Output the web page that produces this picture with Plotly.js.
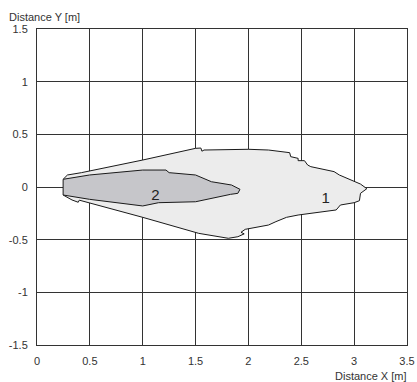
<!DOCTYPE html>
<html><head><meta charset="utf-8">
<script src="https://cdn.plot.ly/plotly-3.0.1.min.js"></script>
<style>html,body{margin:0;padding:0;background:#fff}</style>
</head><body><div id="chart" style="width:417px;height:382px"></div>
<script>
// Field 1 (outer) outline
const field1X = [0.247,0.288,0.42,1.0,1.5,1.55,1.56,1.58,2.0,2.19,2.39,2.40,2.47,2.47,2.53,2.56,2.59,2.81,2.86,2.97,3.06,3.12,3.06,3.05,3.0,2.87,2.83,2.47,2.36,2.26,2.19,1.97,1.93,1.96,1.90,1.81,1.53,1.0,0.45,0.40,0.39,0.36,0.331,0.247];
const field1Y = [0.073,0.114,0.136,0.256,0.367,0.37,0.34,0.351,0.358,0.351,0.326,0.288,0.272,0.25,0.25,0.209,0.193,0.146,0.114,0.066,0.028,-0.016,-0.06,-0.13,-0.149,-0.171,-0.218,-0.266,-0.288,-0.329,-0.361,-0.402,-0.43,-0.445,-0.472,-0.487,-0.44,-0.288,-0.135,-0.125,-0.145,-0.135,-0.123,-0.076];
// Field 2 (inner) outline
const field2X = [0.247,0.497,1.0,1.22,1.25,1.5,1.65,1.84,1.92,1.90,1.83,1.72,1.5,1.15,1.0,0.497,0.247,0.247];
const field2Y = [0.073,0.114,0.161,0.161,0.136,0.114,0.05,0.019,-0.022,-0.06,-0.07,-0.092,-0.14,-0.149,-0.18,-0.117,-0.076,0.073];
const labels = ["1","2"];
const labelX = [2.73,1.12];
const labelY = [-0.12,-0.09];
const xTicks = [0,0.5,1,1.5,2,2.5,3,3.5];
const yTicks = [-1.5,-1,-0.5,0,0.5,1,1.5];

const traces = [
  {x: field1X, y: field1Y, mode:'lines', fill:'toself', fillcolor:'#ececec',
   line:{color:'#1a1a1a', width:1}, hoverinfo:'skip'},
  {x: field2X, y: field2Y, mode:'lines', fill:'toself', fillcolor:'#c6c6ca',
   line:{color:'#1a1a1a', width:1}, hoverinfo:'skip'},
  {x: labelX, y: labelY, mode:'text', text: labels,
   textfont:{family:'Liberation Sans, Arial, sans-serif', size:15, color:'#222'}, hoverinfo:'skip'}
];
const font = {family:'Liberation Sans, Arial, sans-serif', size:11, color:'#333'};
const layout = {
  width:417, height:382,
  margin:{l:37, r:10, t:29, b:37},
  paper_bgcolor:'#fff', plot_bgcolor:'#fff',
  showlegend:false,
  font: font,
  xaxis:{range:[0,3.5], tickvals:xTicks, ticktext:xTicks.map(String), showgrid:true,
    gridcolor:'#333', gridwidth:1, zeroline:false, showline:true, linecolor:'#333', linewidth:1,
    mirror:true, ticks:'', tickfont:font, ticklabelstandoff:6, fixedrange:true},
  yaxis:{range:[-1.5,1.5], tickvals:yTicks, ticktext:yTicks.map(String), showgrid:true,
    gridcolor:'#333', gridwidth:1, zeroline:true, zerolinecolor:'#333', zerolinewidth:1,
    showline:true, linecolor:'#333', linewidth:1, mirror:true, ticks:'', tickfont:font,
    ticklabelstandoff:6, fixedrange:true},
  annotations:[
    {text:'Distance Y [m]', xref:'paper', yref:'paper', x:-0.08, y:1.0, yshift:4,
     xanchor:'left', yanchor:'bottom', showarrow:false, font:font},
    {text:'Distance X [m]', xref:'paper', yref:'paper', x:1.0, y:0, yshift:-23, xshift:2,
     xanchor:'right', yanchor:'top', showarrow:false, font:font}
  ]
};
Plotly.newPlot('chart', traces, layout, {displayModeBar:false, staticPlot:true});
</script></body></html>
